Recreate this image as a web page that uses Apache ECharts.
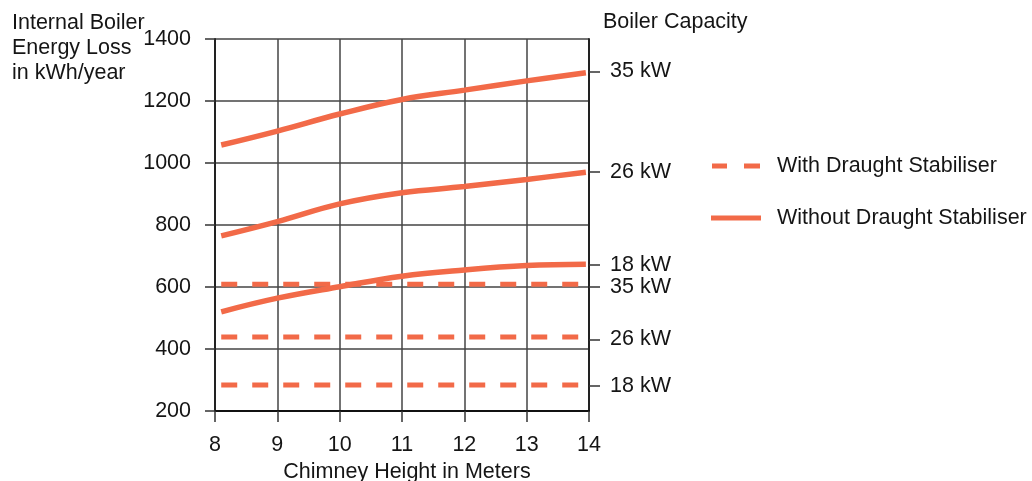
<!DOCTYPE html>
<html>
<head>
<meta charset="utf-8">
<script src="https://cdn.jsdelivr.net/npm/echarts@6/dist/echarts.min.js"></script>
<style>
html,body{margin:0;padding:0;background:#fff;overflow:hidden;}
#chart{width:1032px;height:481px;}
</style>
</head>
<body>
<div id="chart"></div>
<script>
// Chimney heights (m) where the curves were read
var heights = [8.1, 9, 10, 11, 12, 13, 13.95];
var dashedHeights = [8.1, 13.9];

// Without draught stabiliser (kWh/year)
var without35 = [1058, 1103, 1158, 1205, 1235, 1265, 1291];
var without26 = [765, 811, 868, 904, 924, 947, 970];
var without18 = [520, 564, 601, 635, 655, 669, 673];

// With draught stabiliser (kWh/year), constant
var with35 = [609, 609];
var with26 = [439, 439];
var with18 = [284, 284];

// Right axis capacity labels
var capacityTicks = [1295, 972, 671, 600, 431, 282];
var capacityLabels = ['35 kW', '26 kW', '18 kW', '35 kW', '26 kW', '18 kW'];

var seriesNames = ['With Draught Stabiliser', 'Without Draught Stabiliser'];

var COLOR = '#f26a48';
var FONT = 'Liberation Sans, Arial, sans-serif';
var FS = 21.5;
var TXT = '#151515';

function pairs(xs, ys) { return xs.map(function (x, i) { return [x, ys[i]]; }); }

function solid(ys) {
  return {
    name: seriesNames[1], type: 'line', data: pairs(heights, ys),
    smooth: 0.4, symbol: 'none', silent: true,
    lineStyle: { color: COLOR, width: 5.5, cap: 'butt' }, itemStyle: { color: COLOR }, z: 3
  };
}
function dashed(ys) {
  return {
    name: seriesNames[0], type: 'line', data: pairs(dashedHeights, ys),
    symbol: 'none', silent: true,
    lineStyle: { color: COLOR, width: 5, type: [16, 15], cap: 'butt' }, itemStyle: { color: COLOR }, z: 3
  };
}

var labelMap = {};
capacityTicks.forEach(function (v, i) { labelMap[v] = capacityLabels[i]; });

var chart = echarts.init(document.getElementById('chart'), null, { renderer: 'canvas', width: 1032, height: 481 });
chart.setOption({
  animation: false,
  backgroundColor: '#fff',
  textStyle: { fontFamily: FONT },
  grid: { left: 215, right: 443, top: 39, bottom: 70, containLabel: false, outerBoundsMode: 'none' },
  legend: {
    orient: 'vertical', left: 706, top: 149,
    data: [
      { name: seriesNames[0], icon: 'path://M0,0H15V5H0Z M32,0H48V5H32Z' },
      { name: seriesNames[1], icon: 'path://M0,0H50V5H0Z' }
    ],
    itemWidth: 50, itemHeight: 5, itemGap: 28,
    itemStyle: { color: COLOR },
    textStyle: { fontFamily: FONT, fontSize: FS, color: TXT, lineHeight: 24, padding: [0, 0, 0, 11] },
    selectedMode: false
  },
  xAxis: {
    type: 'value', min: 8, max: 14, interval: 1,
    name: 'Chimney Height in Meters', nameLocation: 'middle', nameGap: 47,
    nameTextStyle: { fontFamily: FONT, fontSize: FS, color: TXT, padding: [0, 0, 0, 10] },
    axisLine: { show: true, lineStyle: { color: '#111', width: 2 } },
    axisTick: { show: true, length: 11, lineStyle: { color: '#333', width: 1.5 } },
    axisLabel: { fontFamily: FONT, fontSize: FS, color: TXT, margin: 23 },
    splitLine: { show: true, lineStyle: { color: '#444', width: 1.5 } }
  },
  yAxis: [{
    type: 'value', min: 200, max: 1400, interval: 200, position: 'left',
    axisLine: { show: true, lineStyle: { color: '#222', width: 2 } },
    axisTick: { show: true, length: 10, lineStyle: { color: '#333', width: 1.5 } },
    axisLabel: { fontFamily: FONT, fontSize: FS, color: TXT, margin: 24, formatter: function (v) { return String(v); } },
    splitLine: { show: true, lineStyle: { color: '#444', width: 1.5 } }
  }, {
    type: 'value', min: 200, max: 1400, position: 'right',
    axisLine: { show: true, lineStyle: { color: '#222', width: 2 } },
    axisTick: { show: true, length: 11, customValues: capacityTicks, lineStyle: { color: '#333', width: 1.5 } },
    axisLabel: {
      fontFamily: FONT, fontSize: FS, color: TXT, margin: 21, customValues: capacityTicks,
      formatter: function (v) { return labelMap[v] || ''; }
    },
    splitLine: { show: false }
  }],
  graphic: [{
    type: 'text', left: 12, top: 11,
    style: { text: 'Internal Boiler\nEnergy Loss\nin kWh/year', font: FS + 'px ' + FONT, fill: TXT, lineHeight: 25 }
  }, {
    type: 'text', left: 603, top: 10,
    style: { text: 'Boiler Capacity', font: FS + 'px ' + FONT, fill: TXT, lineHeight: 25 }
  }],
  series: [
    dashed(with35), dashed(with26), dashed(with18),
    solid(without35), solid(without26), solid(without18)
  ]
});
</script>
</body>
</html>
